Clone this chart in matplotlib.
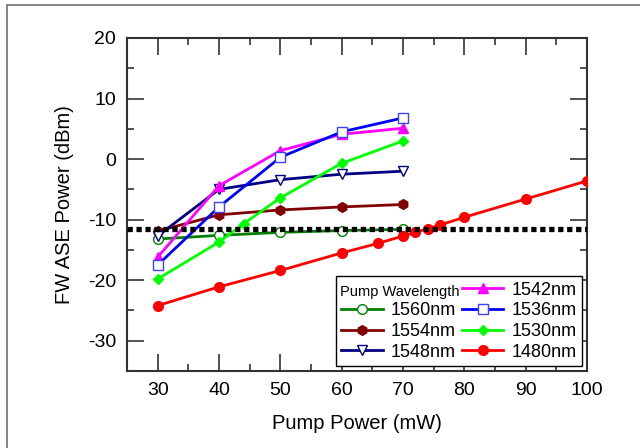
import matplotlib
matplotlib.use('Agg')
import matplotlib.pyplot as plt
from matplotlib.lines import Line2D
from matplotlib.patches import Rectangle

plt.rcParams['font.family'] = ['Liberation Sans', 'DejaVu Sans']
plt.rcParams['axes.unicode_minus'] = False

# pump power (mW)
p_main = [30, 40, 50, 60, 70]
p_1530 = [30, 40, 44, 50, 60, 70]
p_1480 = [30, 40, 50, 60, 66, 70, 72, 74, 76, 80, 90, 100]

# FW ASE power (dBm)
ase_1560 = [-13.2, -12.6, -12.1, -11.8, -11.6]
ase_1554 = [-11.9, -9.2, -8.4, -7.9, -7.5]
ase_1548 = [-12.7, -5.0, -3.4, -2.5, -2.0]
ase_1542 = [-16.2, -4.4, 1.4, 4.1, 5.1]
ase_1536 = [-17.5, -7.9, 0.3, 4.5, 6.8]
ase_1530 = [-19.8, -13.7, -10.7, -6.4, -0.7, 3.0]
ase_1480 = [-24.2, -21.1, -18.4, -15.5, -13.9, -12.7, -12.1, -11.5, -10.9, -9.6, -6.6, -3.6]

threshold = -11.6

fig = plt.figure(figsize=(6.4, 4.48), dpi=100)
ax = fig.add_axes([127/640, 1 - 371/448, 460/640, 333/448])

lw = 2
ms = 7
series = [
    (p_main, ase_1560, '1560nm', '#008000', 'o', 'white'),
    (p_main, ase_1554, '1554nm', '#800000', 'h', '#800000'),
    (p_main, ase_1548, '1548nm', '#000080', 'v', 'white'),
    (p_main, ase_1542, '1542nm', '#ff00ff', '^', '#ff00ff'),
    (p_main, ase_1536, '1536nm', '#0000ff', 's', 'white'),
    (p_1530, ase_1530, '1530nm', '#00ff00', 'D', '#00ff00'),
    (p_1480, ase_1480, '1480nm', '#ff0000', 'o', '#ff0000'),
]

handles = [Line2D([], [], linestyle='none', marker='none')]
labels = ['']
for x, y, name, color, marker, face in series:
    mec = '#4040ff' if name == '1536nm' else color
    msize = ms - 1.5 if marker == 'D' else ms
    h, = ax.plot(x, y, color=color, lw=lw, marker=marker, ms=msize,
                 mfc=face, mec=mec, mew=1.0, zorder=3)
    handles.append(h)
    labels.append(name)

# threshold line
ax.axhline(threshold, color='black', lw=3.8, linestyle=(0, (1, 0.7)),
           dash_capstyle='butt', zorder=4)

ax.set_xlim(25, 100)
ax.set_ylim(-35, 20)
ax.set_xticks([30, 40, 50, 60, 70, 80, 90, 100])
ax.set_xticks([35, 45, 55, 65, 75, 85, 95], minor=True)
ax.set_yticks([-30, -20, -10, 0, 10, 20])
ax.set_yticks([-25, -15, -5, 5, 15], minor=True)
ax.tick_params(which='both', direction='in', top=True, right=True,
               labelsize=14, pad=8, color='#222222')
ax.tick_params(which='major', length=12, width=1.1)
ax.tick_params(which='minor', length=5, width=1.1)
for sp in ax.spines.values():
    sp.set_linewidth(1.5)
    sp.set_color('#333333')

ax.set_xlabel('Pump Power (mW)', fontsize=14.5, labelpad=11)
ax.set_ylabel('FW ASE Power (dBm)', fontsize=14.5, labelpad=10)

leg = ax.legend(handles, labels, ncol=2, loc='lower right',
                bbox_to_anchor=(0.989, 0.015), borderaxespad=0,
                fontsize=13, handlelength=2.3, handletextpad=0.45,
                columnspacing=0.3, labelspacing=0.2, borderpad=0.3,
                fancybox=False, edgecolor='black', framealpha=1)
leg.get_frame().set_linewidth(1.0)
ax.text(0.462, 0.237, 'Pump Wavelength', transform=ax.transAxes,
        fontsize=10.5, ha='left', va='center', zorder=10)

# outer frame
fig.add_artist(Rectangle((7/640, -0.1), 1.2, 1.1 - 5/448, transform=fig.transFigure,
                         fill=False, edgecolor='#707070', lw=1.2))

fig.savefig('out.png', dpi=100)
